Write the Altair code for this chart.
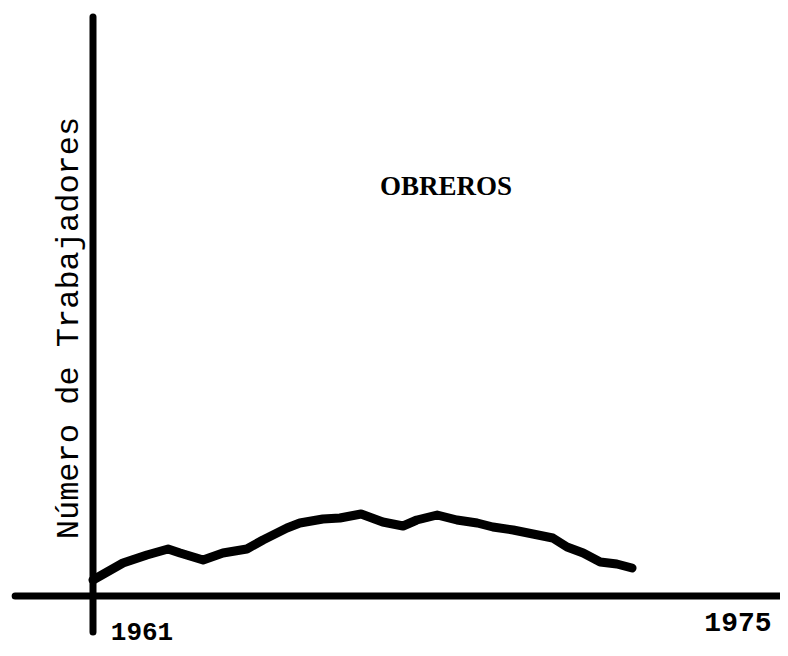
import altair as alt
import pandas as pd

# Line (year position, workers in arbitrary units above the x axis)
years = [1961.00, 1961.65, 1962.17, 1962.63, 1962.89, 1963.39, 1963.82, 1964.34,
         1964.69, 1965.21, 1965.49, 1965.99, 1966.36, 1966.82, 1967.29, 1967.73,
         1968.03, 1968.47, 1968.90, 1969.34, 1969.68, 1970.12, 1970.55, 1970.98,
         1971.29, 1971.64, 1972.01, 1972.37, 1972.70]
workers = [16, 33, 41, 47, 43, 36, 43, 47, 56, 68, 73, 77, 78, 82, 74, 70,
           76, 81, 76, 73, 69, 66, 62, 58, 49, 43, 34, 32, 28]

tick_years = [1961, 1975]
tick_labels = ["1961", "1975"]

x_domain = [1959.155, 1975.912]
y_domain = [-52, 588]

line_df = pd.DataFrame({"year": years, "workers": workers})

xs = alt.Scale(domain=x_domain, zero=False, nice=False)
ys = alt.Scale(domain=y_domain, zero=False, nice=False)

# axis lines, drawn in data coordinates
vaxis = alt.Chart(pd.DataFrame({"x": [1961], "y": [579], "y2": [-36]})).mark_rule(
    color="black", strokeWidth=7, strokeCap="round"
).encode(
    x=alt.X("x:Q", scale=xs, axis=None),
    y=alt.Y("y:Q", scale=ys, axis=None),
    y2="y2:Q",
)

haxis = alt.Chart(pd.DataFrame({"x": [1959.31], "x2": [1975.91], "y": [0]})).mark_rule(
    color="black", strokeWidth=7, strokeCap="round"
).encode(
    x=alt.X("x:Q", scale=xs, axis=None),
    x2="x2:Q",
    y=alt.Y("y:Q", scale=ys, axis=None),
)

line = alt.Chart(line_df).mark_line(
    color="black", strokeWidth=9, strokeCap="round", strokeJoin="round"
).encode(
    x=alt.X("year:Q", scale=xs, axis=None),
    y=alt.Y("workers:Q", scale=ys, axis=None),
)

lab1961 = alt.Chart(pd.DataFrame({"x": [tick_years[0]], "y": [0], "t": [tick_labels[0]]})).mark_text(
    font="Liberation Mono", fontSize=26, fontWeight="bold", align="center",
    baseline="middle", dx=49, dy=36, color="black"
).encode(x=alt.X("x:Q", scale=xs, axis=None), y=alt.Y("y:Q", scale=ys, axis=None), text="t:N")

lab1975 = alt.Chart(pd.DataFrame({"x": [tick_years[1]], "y": [0], "t": [tick_labels[1]]})).mark_text(
    font="Liberation Mono", fontSize=28, fontWeight="bold", align="center",
    baseline="middle", dx=0, dy=27, color="black"
).encode(x=alt.X("x:Q", scale=xs, axis=None), y=alt.Y("y:Q", scale=ys, axis=None), text="t:N")

title = alt.Chart(pd.DataFrame({"t": ["OBREROS"]})).mark_text(
    font="Liberation Serif", fontSize=27, fontWeight="bold", align="center",
    baseline="middle", color="black"
).encode(x=alt.value(438), y=alt.value(179), text="t:N")

ytitle = alt.Chart(pd.DataFrame({"t": ["Número de Trabajadores"]})).mark_text(
    font="Liberation Mono", fontSize=32, align="center", angle=270,
    baseline="middle", color="black"
).encode(x=alt.value(60), y=alt.value(320), text="t:N")

chart = alt.layer(vaxis, haxis, line, lab1961, lab1975, title, ytitle).properties(
    width=772, height=640, padding=0,
    autosize=alt.AutoSizeParams(type="none"),
    background="white",
).configure_view(stroke=None)

chart.save("out.html", embed_options={"renderer": "svg", "actions": False})
